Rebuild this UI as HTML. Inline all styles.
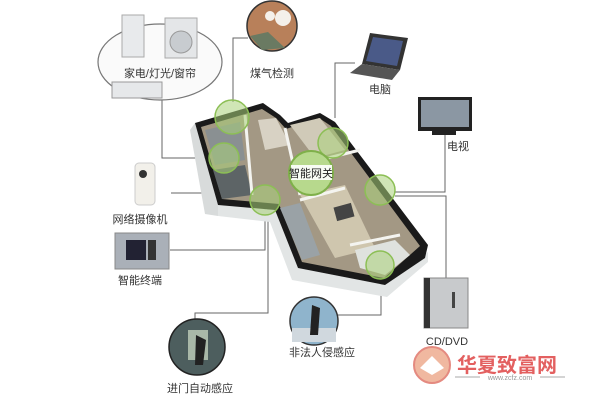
<!DOCTYPE html>
<html><head><meta charset="utf-8"><style>
body{margin:0;background:#fff;}
svg text{font-family:"Liberation Sans","Noto Sans CJK SC",sans-serif;}
</style></head><body>
<svg width="600" height="400" viewBox="0 0 600 400" xmlns="http://www.w3.org/2000/svg">
<rect width="600" height="400" fill="#fff"/>
<g stroke="#666" stroke-width="1" fill="none">
<polyline points="162,90 162,158 215,158"/>
<polyline points="248,38 233,38 233,102"/>
<polyline points="355,63 335,63 335,118"/>
<polyline points="445,133 445,192 395,192"/>
<polyline points="395,196 446,196 446,280"/>
<line x1="171" y1="193" x2="212" y2="193"/>
<polyline points="170,250 265,250 265,200"/>
<polyline points="268,205 268,313 195,313 195,320"/>
<polyline points="381,270 381,315 337,315"/>
</g>
<ellipse cx="160" cy="62" rx="62" ry="38" fill="#fafafa" stroke="#777" stroke-width="1.2"/>
<rect x="122" y="15" width="22" height="42" fill="#e8eaec" stroke="#aaa"/>
<rect x="165" y="18" width="32" height="40" fill="#e4e6e8" stroke="#aaa"/>
<circle cx="181" cy="42" r="11" fill="#c8ccd0" stroke="#999"/>
<rect x="112" y="82" width="50" height="16" fill="#e6e8ea" stroke="#999"/>
<text x="160" y="77" font-size="11" text-anchor="middle" fill="#333">家电/灯光/窗帘</text>
<circle cx="272" cy="26" r="25" fill="#b8805a" stroke="#333" stroke-width="1.5"/>
<path d="M250,36 L268,32 L285,48 L262,50 Z" fill="#6a7a62"/>
<circle cx="283" cy="18" r="8" fill="#f4f0ea"/>
<circle cx="270" cy="16" r="5" fill="#f4f0ea"/>
<text x="272" y="77" font-size="11" text-anchor="middle" fill="#333">煤气检测</text>
<path d="M370,33 L408,38 L400,70 L362,64 Z" fill="#333"/>
<path d="M373,37 L403,41 L397,66 L366,61 Z" fill="#4a5a88"/>
<path d="M362,64 L400,70 L392,80 L350,73 Z" fill="#555"/>
<text x="380" y="93" font-size="11" text-anchor="middle" fill="#333">电脑</text>
<rect x="418" y="97" width="54" height="34" fill="#222"/>
<rect x="421" y="100" width="48" height="27" fill="#8b97a3"/>
<rect x="432" y="131" width="24" height="4" fill="#222"/>
<text x="458" y="150" font-size="11" text-anchor="middle" fill="#333">电视</text>
<!-- floor plan -->
<polygon points="218,205 275,210 298,268 385,285 428,252 428,262 387,297 292,280 270,222 218,216" fill="#e2e5e5"/>
<polygon points="195,123 218,205 218,216 205,214 190,130" fill="#d8dbdb"/>
<polygon points="195,123 263,103 280,115 288,123 320,113 335,122 428,245 425,258 385,285 298,268 275,210 218,205" fill="#1a1a1a"/>
<polygon points="201,127 262,109 276,118 286,129 319,118 331,126 420,246 384,278 302,262 279,204 222,199" fill="#a39884"/>
<polygon points="205,130 240,122 245,160 215,165" fill="#8a9092"/>
<polygon points="213,170 245,165 252,195 222,199" fill="#5d6466"/>
<polygon points="258,120 276,118 290,145 265,150" fill="#d8d2c4"/>
<polygon points="290,125 320,118 345,150 315,158" fill="#d0cab8"/>
<polygon points="300,195 345,185 375,248 335,258" fill="#cfc6ae"/>
<polygon points="280,208 300,203 320,255 302,260" fill="#9aa2a6"/>
<polygon points="355,250 395,240 410,255 385,275 360,268" fill="#dfe2de"/>
<g stroke="#f4f4f0" stroke-width="3" fill="none">
<line x1="245" y1="115" x2="252" y2="195"/>
<line x1="285" y1="128" x2="300" y2="195"/>
<line x1="300" y1="200" x2="345" y2="188"/>
<line x1="320" y1="160" x2="360" y2="150"/>
<line x1="350" y1="245" x2="400" y2="235"/>
</g>
<rect x="335" y="205" width="18" height="14" fill="#444" transform="rotate(-15 344 212)"/>
<g fill="#a9d27a" fill-opacity="0.55" stroke="#8cbf55" stroke-width="1.5">
<circle cx="232" cy="117" r="17"/>
<circle cx="224" cy="158" r="15"/>
<circle cx="265" cy="200" r="15"/>
<circle cx="333" cy="143" r="15"/>
<circle cx="380" cy="190" r="15"/>
<circle cx="380" cy="265" r="14"/>
</g>
<circle cx="311" cy="173" r="22" fill="#b7d98d" stroke="#7fb04a" stroke-width="2"/>
<rect x="291" y="165" width="41" height="15" fill="#fff" opacity="0.9"/>
<text x="311" y="177" font-size="11" text-anchor="middle" fill="#222">智能网关</text>
<rect x="135" y="163" width="20" height="42" rx="4" fill="#f2f0ea" stroke="#ccc"/>
<circle cx="143" cy="174" r="4" fill="#333"/>
<text x="140" y="223" font-size="11" text-anchor="middle" fill="#333">网络摄像机</text>
<rect x="115" y="233" width="54" height="36" fill="#aab0b8" stroke="#888"/>
<rect x="126" y="240" width="20" height="20" fill="#223"/>
<rect x="148" y="240" width="8" height="20" fill="#333"/>
<text x="140" y="284" font-size="11" text-anchor="middle" fill="#333">智能终端</text>
<circle cx="314" cy="321" r="24" fill="#8fb4cc" stroke="#333" stroke-width="1.5"/>
<rect x="292" y="328" width="44" height="14" fill="#d0d8de"/>
<path d="M312,305 L320,308 L318,335 L310,335 Z" fill="#222"/>
<text x="322" y="356" font-size="11" text-anchor="middle" fill="#333">非法人侵感应</text>
<circle cx="197" cy="347" r="28" fill="#4d5e5e" stroke="#222" stroke-width="1.5"/>
<rect x="188" y="330" width="20" height="30" fill="#a9b8a8"/>
<path d="M196,335 L206,340 L203,365 L195,365 Z" fill="#222"/>
<text x="200" y="392" font-size="11" text-anchor="middle" fill="#333">进门自动感应</text>
<rect x="424" y="278" width="44" height="50" fill="#c8cacc" stroke="#888"/>
<rect x="424" y="278" width="6" height="50" fill="#333"/>
<rect x="452" y="292" width="3" height="16" fill="#444"/>
<text x="447" y="345" font-size="11" text-anchor="middle" fill="#333">CD/DVD</text>
<circle cx="432" cy="365" r="18" fill="#f0b8a0" stroke="#e48a80" stroke-width="2"/>
<path d="M420,368 L432,356 L444,368 L432,375 Z" fill="#fff"/>
<text x="457" y="372" font-size="20" fill="#e36060" font-weight="bold" font-family="Noto Sans CJK SC">华夏致富网</text>
<line x1="455" y1="377" x2="480" y2="377" stroke="#aaa"/>
<line x1="540" y1="377" x2="565" y2="377" stroke="#aaa"/>
<text x="510" y="380" font-size="7" text-anchor="middle" fill="#999">www.zcfz.com</text>
</svg>
</body></html>
